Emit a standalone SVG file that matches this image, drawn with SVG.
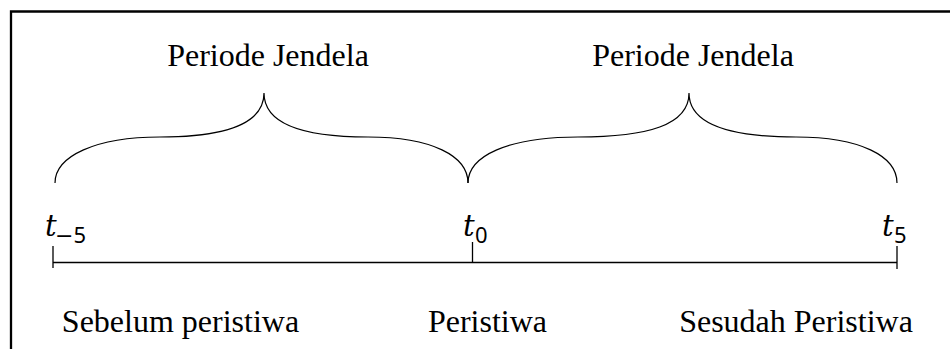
<svg xmlns="http://www.w3.org/2000/svg" width="950" height="349" viewBox="0 0 950 349">
<style>
.lbl{font-family:"Liberation Serif","Times New Roman",serif;font-size:32px;fill:#000;text-anchor:middle}
.tv{font-family:"DejaVu Serif","Liberation Serif",serif;font-style:italic;font-size:29px;fill:#000}
.sub{font-family:"Noto Sans","DejaVu Sans",sans-serif;font-size:22px;fill:#000}
.minus{font-family:"DejaVu Sans",sans-serif}
.ln{fill:none;stroke:#000;stroke-width:1.3}
.brace{fill:none;stroke:#000;stroke-width:1.2}
</style>
<rect width="950" height="349" fill="#fff"/>
<path d="M11,349 V11.5 H950" fill="none" stroke="#000" stroke-width="2.3"/>
<g id="brace-before">
<path class="brace" d="M55,183 C55,156 96,137 160,137 C222,137 264,125 264,93 C264,125 306,137 368,137 C432,137 468,156 468,183"/>
<text class="lbl" x="268" y="66">Periode Jendela</text>
</g>
<g id="brace-after">
<path class="brace" d="M468,183 C468,156 508,137 578,137 C648,137 689,125 689,93 C689,125 730,137 796,137 C860,137 897,156 897,183"/>
<text class="lbl" x="693" y="66">Periode Jendela</text>
</g>
<g id="connectors">
<path class="ln" d="M53,262.5 H897"/>
<path class="ln" d="M53,246 V268"/>
<path class="ln" d="M472.5,242 V263"/>
<path class="ln" d="M897,246 V269"/>
</g>
<g id="t-minus5">
<text class="tv" x="45" y="236">t</text>
<text class="sub" x="55" y="243"><tspan class="minus">−</tspan>5</text>
<text class="lbl" x="180.5" y="332">Sebelum peristiwa</text>
</g>
<g id="t0">
<text class="tv" x="463" y="236">t</text>
<text class="sub" x="475" y="243">0</text>
<text class="lbl" x="487.5" y="332">Peristiwa</text>
</g>
<g id="t5">
<text class="tv" x="882" y="236">t</text>
<text class="sub" x="894" y="243">5</text>
<text class="lbl" x="796" y="332">Sesudah Peristiwa</text>
</g>
</svg>
